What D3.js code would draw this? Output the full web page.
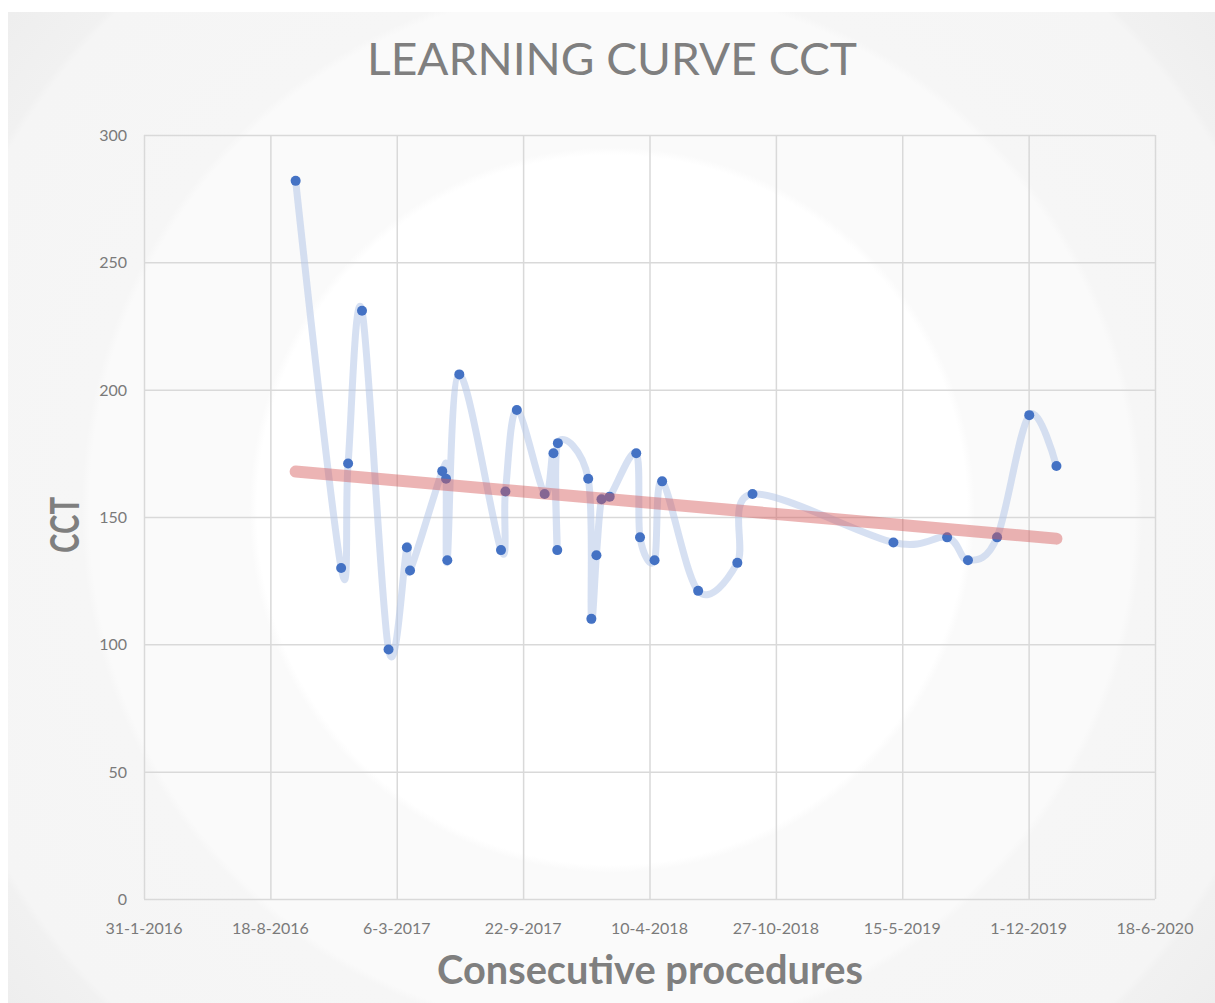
<!DOCTYPE html>
<html>
<head>
<meta charset="utf-8">
<script src="https://cdnjs.cloudflare.com/ajax/libs/d3/7.8.5/d3.min.js"></script>
<style>
	body { margin: 0; background: #fff; }
	svg { display: block; font-family: Lato, "Open Sans", sans-serif; }
</style>
</head>
<body>
<div id="chart"></div>
<script>
// procedure dates (d-m-yyyy) and CCT values
var dates = ["27-9-2016","8-12-2016","19-12-2016","10-1-2017","21-2-2017","22-3-2017","27-3-2017",
	"17-5-2017","23-5-2017","25-5-2017","13-6-2017","18-8-2017","25-8-2017","12-9-2017",
	"26-10-2017","9-11-2017","15-11-2017","16-11-2017","3-1-2018","8-1-2018","16-1-2018",
	"24-1-2018","6-2-2018","20-3-2018","26-3-2018","18-4-2018","30-4-2018","26-6-2018",
	"27-8-2018","20-9-2018","1-5-2019","25-7-2019","27-8-2019","12-10-2019","2-12-2019","14-1-2020"];
var cct = [282,130,171,231,98,138,129,168,165,133,206,137,160,192,159,175,137,179,165,110,135,
	157,158,175,142,133,164,121,132,159,140,142,133,142,190,170];

var xTicks = ["31-1-2016","18-8-2016","6-3-2017","22-9-2017","10-4-2018","27-10-2018","15-5-2019","1-12-2019","18-6-2020"];
var yTicks = [0, 50, 100, 150, 200, 250, 300];

var W = 1215, H = 1003;
var plotLeft = 144, plotRight = 1155, plotTop = 135, plotBottom = 899;

var parse = d3.utcParse("%d-%m-%Y");
var data = dates.map(function (d, i) { return { date: parse(d), v: cct[i] }; });
var tickDates = xTicks.map(parse);

var x = d3.scaleUtc().domain([tickDates[0], tickDates[tickDates.length - 1]]).range([plotLeft, plotRight]);
var y = d3.scaleLinear().domain([0, 300]).range([plotBottom, plotTop]);

var svg = d3.select('#chart').append('svg')
	.attr('width', W)
	.attr('height', H);

// soft concentric background
var grad = svg.append('defs').append('radialGradient')
	.attr('id', 'bg')
	.attr('gradientUnits', 'userSpaceOnUse')
	.attr('cx', 612).attr('cy', 510).attr('r', 780);
[[0, '#ffffff'], [0.455, '#ffffff'], [0.465, '#fafafa'], [0.67, '#fafafa'], [0.68, '#f6f6f6'],
	[0.9, '#f5f5f5'], [0.91, '#f1f1f1'], [1, '#eeeeee']].forEach(function (s) {
	grad.append('stop').attr('offset', s[0]).attr('stop-color', s[1]);
});

svg.append('rect').attr('width', W).attr('height', H).attr('fill', '#fff');
svg.append('rect')
	.attr('x', 8).attr('y', 12)
	.attr('width', W - 8).attr('height', H - 12)
	.attr('fill', 'url(#bg)');

// gridlines
svg.append('g')
	.attr('transform', 'translate(' + plotLeft + ',0)')
	.call(d3.axisLeft(y).tickValues(yTicks).tickSize(-(plotRight - plotLeft)).tickFormat(''))
	.call(function (g) {
		g.select('.domain').remove();
		g.selectAll('line').attr('stroke', '#d9d9d9').attr('stroke-width', 1.5);
	});

svg.append('g')
	.attr('transform', 'translate(0,' + plotBottom + ')')
	.call(d3.axisBottom(x).tickValues(tickDates).tickSize(-(plotBottom - plotTop)).tickFormat(''))
	.call(function (g) {
		g.select('.domain').remove();
		g.selectAll('line').attr('stroke', '#d9d9d9').attr('stroke-width', 1.5);
	});

// tick labels
svg.append('g').selectAll('text')
	.data(yTicks)
	.enter().append('text')
	.attr('x', 127)
	.attr('y', function (d) { return y(d) + 6; })
	.attr('text-anchor', 'end')
	.attr('font-size', 16)
	.attr('fill', '#7a7a7a')
	.text(function (d) { return d; });

svg.append('g').selectAll('text')
	.data(tickDates)
	.enter().append('text')
	.attr('x', function (d) { return x(d); })
	.attr('y', 934)
	.attr('text-anchor', 'middle')
	.attr('font-size', 16)
	.attr('fill', '#7a7a7a')
	.text(function (d, i) { return xTicks[i]; });

// smoothed series line
var line = d3.line()
	.x(function (d) { return x(d.date); })
	.y(function (d) { return y(d.v); })
	.curve(d3.curveCatmullRom.alpha(0));

svg.append('path')
	.datum(data)
	.attr('d', line)
	.attr('fill', 'none')
	.attr('stroke', '#b4c7e7')
	.attr('stroke-opacity', 0.55)
	.attr('stroke-width', 7)
	.attr('stroke-linejoin', 'round');

svg.append('g').selectAll('circle')
	.data(data)
	.enter().append('circle')
	.attr('cx', function (d) { return x(d.date); })
	.attr('cy', function (d) { return y(d.v); })
	.attr('r', 5)
	.attr('fill', '#4472c4');

// linear trendline
var xs = data.map(function (d) { return +d.date; });
var mx = d3.mean(xs), my = d3.mean(cct);
var sxy = d3.sum(data, function (d) { return (+d.date - mx) * (d.v - my); });
var sxx = d3.sum(xs, function (t) { return (t - mx) * (t - mx); });
var slope = sxy / sxx, icpt = my - slope * mx;
var ends = [data[0].date, data[data.length - 1].date];

svg.append('line')
	.attr('x1', x(ends[0])).attr('y1', y(icpt + slope * ends[0]))
	.attr('x2', x(ends[1])).attr('y2', y(icpt + slope * ends[1]))
	.attr('stroke', '#d45858')
	.attr('stroke-opacity', 0.45)
	.attr('stroke-width', 12)
	.attr('stroke-linecap', 'round');

// titles
svg.append('text')
	.attr('x', 612).attr('y', 75)
	.attr('text-anchor', 'middle')
	.attr('font-size', 44)
	.attr('fill', '#7f7f7f')
	.attr('textLength', 490)
	.attr('lengthAdjust', 'spacingAndGlyphs')
	.text('LEARNING CURVE CCT');

svg.append('text')
	.attr('x', 650).attr('y', 984)
	.attr('text-anchor', 'middle')
	.attr('font-size', 40)
	.attr('font-weight', 'bold')
	.attr('fill', '#7f7f7f')
	.attr('textLength', 426)
	.attr('lengthAdjust', 'spacingAndGlyphs')
	.text('Consecutive procedures');

svg.append('text')
	.attr('transform', 'translate(79,525) rotate(-90)')
	.attr('text-anchor', 'middle')
	.attr('font-size', 40)
	.attr('font-weight', 'bold')
	.attr('fill', '#7f7f7f')
	.attr('textLength', 56)
	.attr('lengthAdjust', 'spacingAndGlyphs')
	.text('CCT');
</script>
</body>
</html>
